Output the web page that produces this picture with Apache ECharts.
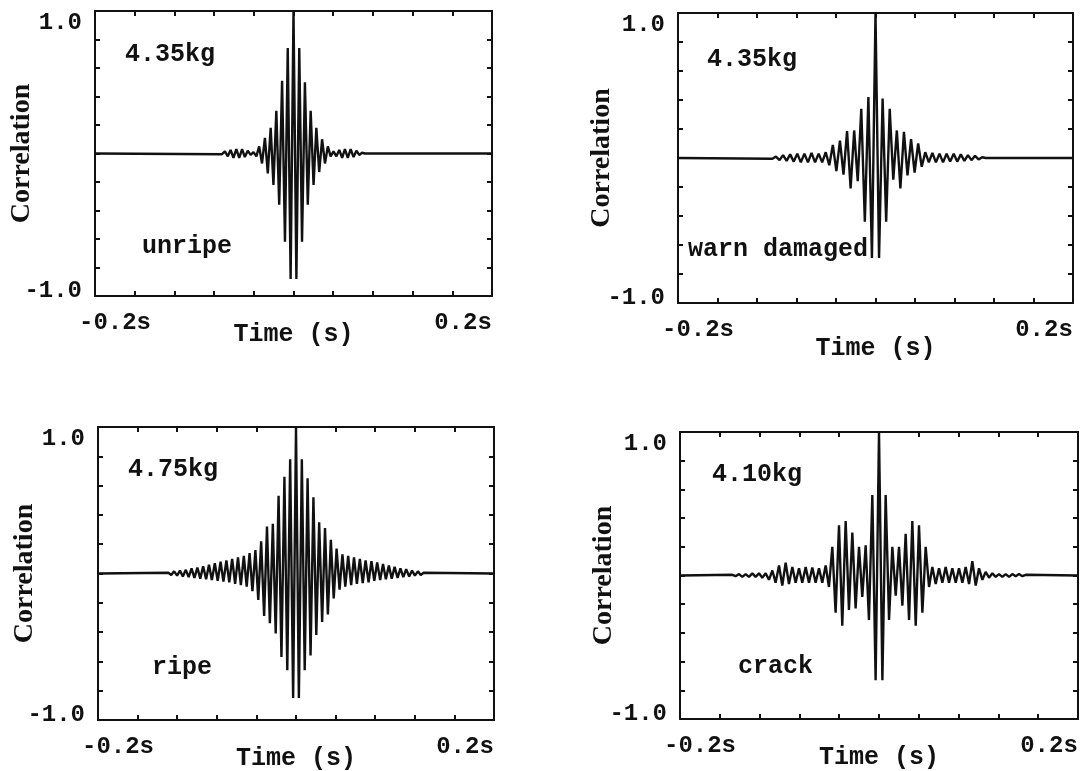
<!DOCTYPE html>
<html>
<head>
<meta charset="utf-8">
<script src="https://cdn.jsdelivr.net/npm/echarts@6.0.0/dist/echarts.min.js"></script>
<style>
  html, body { margin: 0; background: #fff; }
  #chart { width: 1082px; height: 771px; }
</style>
</head>
<body>
<div id="chart"></div>
<script>
// lag in ms, correlation (one point per peak / trough)
const lagUnripe = [-200, -72.0, -69.1, -66.2, -63.4, -60.5, -57.6, -54.7, -51.8, -49.0, -46.1, -43.2, -40.3, -37.4, -34.6, -31.7, -28.8, -25.9, -23.0, -20.2, -17.3, -14.4, -11.5, -8.6, -5.8, -2.9,
  0, 2.9, 5.8, 8.6, 11.5, 14.4, 17.3, 20.2, 23.0, 25.9, 28.8, 31.7, 34.6, 37.4, 40.3, 43.2, 46.1, 49.0, 51.8, 54.7, 57.6, 60.5, 63.4, 66.2, 69.1, 72.0, 200];
const corrUnripe = [0, -0.005, 0.015, -0.02, 0.025, -0.03, 0.03, -0.03, 0.03, -0.025, 0.02, -0.01, 0.01, -0.02, 0.05, -0.07, 0.11, -0.14, 0.18, -0.22, 0.30, -0.36, 0.51, -0.62, 0.74, -0.88,
  1.0, -0.88, 0.74, -0.62, 0.50, -0.36, 0.30, -0.22, 0.18, -0.13, 0.10, -0.07, 0.05, -0.02, 0.015, -0.02, 0.025, -0.03, 0.03, -0.03, 0.03, -0.025, 0.02, -0.01, 0.005, 0, 0];

const lagDamaged = [-200, -104.4, -100.8, -97.2, -93.6, -90.0, -86.4, -82.8, -79.2, -75.6, -72.0, -68.4, -64.8, -61.2, -57.6, -54.0, -50.4, -46.8, -43.2, -39.6, -36.0, -32.4, -28.8, -25.2, -21.6, -18.0, -14.4, -10.8, -7.2, -3.6,
  0, 3.6, 7.2, 10.8, 14.4, 18.0, 21.6, 25.2, 28.8, 32.4, 36.0, 39.6, 43.2, 46.8, 50.4, 54.0, 57.6, 61.2, 64.8, 68.4, 72.0, 75.6, 79.2, 82.8, 86.4, 90.0, 93.6, 97.2, 100.8, 104.4, 108.0, 111.6, 200];
const corrDamaged = [0, -0.005, 0.01, -0.015, 0.02, -0.02, 0.025, -0.025, 0.03, -0.03, 0.03, -0.03, 0.035, -0.03, 0.03, -0.03, 0.04, -0.05, 0.09, -0.09, 0.12, -0.115, 0.185, -0.21, 0.19, -0.16, 0.34, -0.44, 0.42, -0.69,
  1.0, -0.69, 0.41, -0.44, 0.34, -0.15, 0.19, -0.21, 0.18, -0.12, 0.13, -0.10, 0.10, -0.06, 0.04, -0.03, 0.035, -0.03, 0.03, -0.03, 0.03, -0.025, 0.03, -0.025, 0.025, -0.02, 0.02, -0.015, 0.015, -0.01, 0.005, 0, 0];

const lagRipe = [-200, -128.9, -126.0, -123.1, -120.1, -117.2, -114.3, -111.3, -108.4, -105.5, -102.6, -99.6, -96.7, -93.8, -90.8, -87.9, -85.0, -82.0, -79.1, -76.2, -73.3, -70.3, -67.4, -64.5, -61.5, -58.6, -55.7, -52.7, -49.8, -46.9, -44.0, -41.0, -38.1, -35.2, -32.2, -29.3, -26.4, -23.4, -20.5, -17.6, -14.7, -11.7, -8.8, -5.9, -2.9,
  0, 2.9, 5.9, 8.8, 11.7, 14.7, 17.6, 20.5, 23.4, 26.4, 29.3, 32.2, 35.2, 38.1, 41.0, 44.0, 46.9, 49.8, 52.7, 55.7, 58.6, 61.5, 64.5, 67.4, 70.3, 73.3, 76.2, 79.1, 82.0, 85.0, 87.9, 90.8, 93.8, 96.7, 99.6, 102.6, 105.5, 108.4, 111.3, 114.3, 117.2, 120.1, 123.1, 126.0, 128.9, 200];
const corrRipe = [0, 0.005, -0.01, 0.015, -0.015, 0.02, -0.02, 0.025, -0.025, 0.035, -0.03, 0.04, -0.035, 0.05, -0.04, 0.06, -0.045, 0.07, -0.05, 0.08, -0.055, 0.09, -0.06, 0.10, -0.07, 0.11, -0.08, 0.12, -0.09, 0.14, -0.12, 0.16, -0.18, 0.22, -0.29, 0.32, -0.34, 0.34, -0.41, 0.53, -0.57, 0.66, -0.66, 0.78, -0.85,
  1.0, -0.85, 0.78, -0.66, 0.65, -0.56, 0.52, -0.42, 0.35, -0.33, 0.31, -0.28, 0.23, -0.17, 0.17, -0.11, 0.13, -0.09, 0.12, -0.08, 0.11, -0.07, 0.10, -0.065, 0.09, -0.06, 0.085, -0.05, 0.075, -0.045, 0.065, -0.04, 0.055, -0.035, 0.045, -0.03, 0.035, -0.025, 0.03, -0.02, 0.02, -0.015, 0.015, -0.01, 0.005, 0];

const lagCrack = [-200, -147.4, -144.1, -140.7, -137.4, -134.0, -130.7, -127.3, -124.0, -120.6, -117.3, -113.9, -110.6, -107.2, -103.9, -100.5, -97.2, -93.8, -90.5, -87.1, -83.8, -80.4, -77.1, -73.7, -70.4, -67.0, -63.7, -60.3, -57.0, -53.6, -50.3, -46.9, -43.6, -40.2, -36.9, -33.5, -30.2, -26.8, -23.5, -20.1, -16.8, -13.4, -10.1, -6.7, -3.4,
  0, 3.4, 6.7, 10.1, 13.4, 16.8, 20.1, 23.5, 26.8, 30.2, 33.5, 36.9, 40.2, 43.6, 46.9, 50.3, 53.6, 57.0, 60.3, 63.7, 67.0, 70.4, 73.7, 77.1, 80.4, 83.8, 87.1, 90.5, 93.8, 97.2, 100.5, 103.9, 107.2, 110.6, 113.9, 117.3, 120.6, 124.0, 127.3, 130.7, 134.0, 137.4, 140.7, 144.1, 147.4, 200];
const corrCrack = [0, 0.005, -0.005, 0.01, -0.01, 0.01, -0.01, 0.015, -0.01, 0.015, -0.015, 0.015, -0.03, 0.035, -0.05, 0.07, -0.07, 0.09, -0.06, 0.06, -0.05, 0.05, -0.05, 0.06, -0.05, 0.055, -0.05, 0.05, -0.05, 0.07, -0.08, 0.20, -0.26, 0.35, -0.35, 0.38, -0.24, 0.30, -0.23, 0.20, -0.15, 0.21, -0.31, 0.56, -0.73,
  1.0, -0.73, 0.56, -0.31, 0.20, -0.14, 0.20, -0.21, 0.29, -0.31, 0.38, -0.35, 0.35, -0.26, 0.20, -0.08, 0.06, -0.06, 0.05, -0.05, 0.06, -0.05, 0.05, -0.05, 0.05, -0.05, 0.06, -0.06, 0.10, -0.07, 0.05, -0.03, 0.025, -0.015, 0.015, -0.01, 0.01, -0.01, 0.01, -0.01, 0.01, -0.005, 0.01, -0.005, 0.005, 0];

const xTickLabels = ['-0.2s', '0.2s'];
const yTickLabels = ['-1.0', '1.0'];

const MONO = '"Liberation Mono", "DejaVu Sans Mono", monospace';
const SERIF = '"Liberation Serif", "DejaVu Serif", serif';
const INK = '#111';

const panels = [
  { lag: lagUnripe, corr: corrUnripe, mass: '4.35kg', state: 'unripe',
    box: { left: 95, top: 11, width: 397, height: 285 }, massAt: [125, 55], stateAt: [142, 247], yGap: 59, xGap: 26 },
  { lag: lagDamaged, corr: corrDamaged, mass: '4.35kg', state: 'warn damaged',
    box: { left: 678, top: 13, width: 395, height: 290 }, massAt: [707, 60], stateAt: [688, 250], yGap: 62, xGap: 33 },
  { lag: lagRipe, corr: corrRipe, mass: '4.75kg', state: 'ripe',
    box: { left: 98, top: 427, width: 396, height: 293 }, massAt: [128, 470], stateAt: [152, 668], yGap: 59, xGap: 26 },
  { lag: lagCrack, corr: corrCrack, mass: '4.10kg', state: 'crack',
    box: { left: 680, top: 432, width: 398, height: 287 }, massAt: [712, 475], stateAt: [738, 667], yGap: 62, xGap: 26 }
];

const lineStyle = { color: INK, width: 2 };
const tickStyle = { show: true, inside: true, length: 5, lineStyle: { color: INK, width: 2 } };
const labelFont = { fontFamily: MONO, fontSize: 24, fontWeight: 'bold', color: INK };

const grid = [], xAxis = [], yAxis = [], series = [], graphic = [];

panels.forEach((p, i) => {
  grid.push(Object.assign({ outerBoundsMode: 'none', containLabel: false }, p.box));

  xAxis.push({
    gridIndex: i, type: 'value', min: -200, max: 200, interval: 40,
    axisLine: { show: true, onZero: false, lineStyle },
    axisTick: tickStyle,
    splitLine: { show: false },
    axisLabel: {
      margin: 15, showMinLabel: true, showMaxLabel: true,
      formatter: v => v === -200 ? '{l|' + xTickLabels[0] + '}' : (v === 200 ? '{r|' + xTickLabels[1] + '}' : ''),
      rich: {
        l: Object.assign({ padding: [0, 0, 0, 40] }, labelFont),
        r: Object.assign({ padding: [0, 58, 0, 0] }, labelFont)
      }
    },
    name: 'Time (s)', nameLocation: 'middle', nameGap: p.xGap, nameMoveOverlap: false,
    nameTextStyle: { fontFamily: MONO, fontSize: 25, fontWeight: 'bold', color: INK }
  });
  xAxis.push({
    gridIndex: i, type: 'value', position: 'top', min: -200, max: 200, interval: 40,
    axisLine: { show: true, onZero: false, lineStyle },
    axisTick: tickStyle, axisLabel: { show: false }, splitLine: { show: false }
  });

  yAxis.push({
    gridIndex: i, type: 'value', min: -1, max: 1, interval: 0.2,
    axisLine: { show: true, onZero: false, lineStyle },
    axisTick: tickStyle,
    splitLine: { show: false },
    axisLabel: {
      margin: 13, showMinLabel: true, showMaxLabel: true,
      formatter: v => Math.abs(v - 1) < 1e-6 ? '{t|' + yTickLabels[1] + '}' : (Math.abs(v + 1) < 1e-6 ? '{b|' + yTickLabels[0] + '}' : ''),
      rich: {
        t: Object.assign({ padding: [24, 0, 0, 0] }, labelFont),
        b: Object.assign({ padding: [0, 0, 10, 0] }, labelFont)
      }
    },
    name: 'Correlation', nameLocation: 'middle', nameGap: p.yGap, nameMoveOverlap: false,
    nameTextStyle: { fontFamily: SERIF, fontSize: 28, fontWeight: 'bold', color: INK }
  });
  yAxis.push({
    gridIndex: i, type: 'value', position: 'right', min: -1, max: 1, interval: 0.2,
    axisLine: { show: true, onZero: false, lineStyle },
    axisTick: tickStyle, axisLabel: { show: false }, splitLine: { show: false }
  });

  series.push({
    type: 'line', xAxisIndex: 2 * i, yAxisIndex: 2 * i,
    data: p.lag.map((t, k) => [t, p.corr[k]]),
    showSymbol: false, symbol: 'none',
    lineStyle: { color: INK, width: 2.4 },
    z: 3
  });

  [[p.mass, p.massAt], [p.state, p.stateAt]].forEach(([txt, at]) => {
    graphic.push({
      type: 'text', x: at[0], y: at[1], z: 10,
      style: { text: txt, font: 'bold 25px ' + MONO, fill: INK, verticalAlign: 'middle' }
    });
  });
});

const chart = echarts.init(document.getElementById('chart'));
chart.setOption({
  animation: false,
  backgroundColor: '#fff',
  grid, xAxis, yAxis, series, graphic
});
</script>
</body>
</html>
